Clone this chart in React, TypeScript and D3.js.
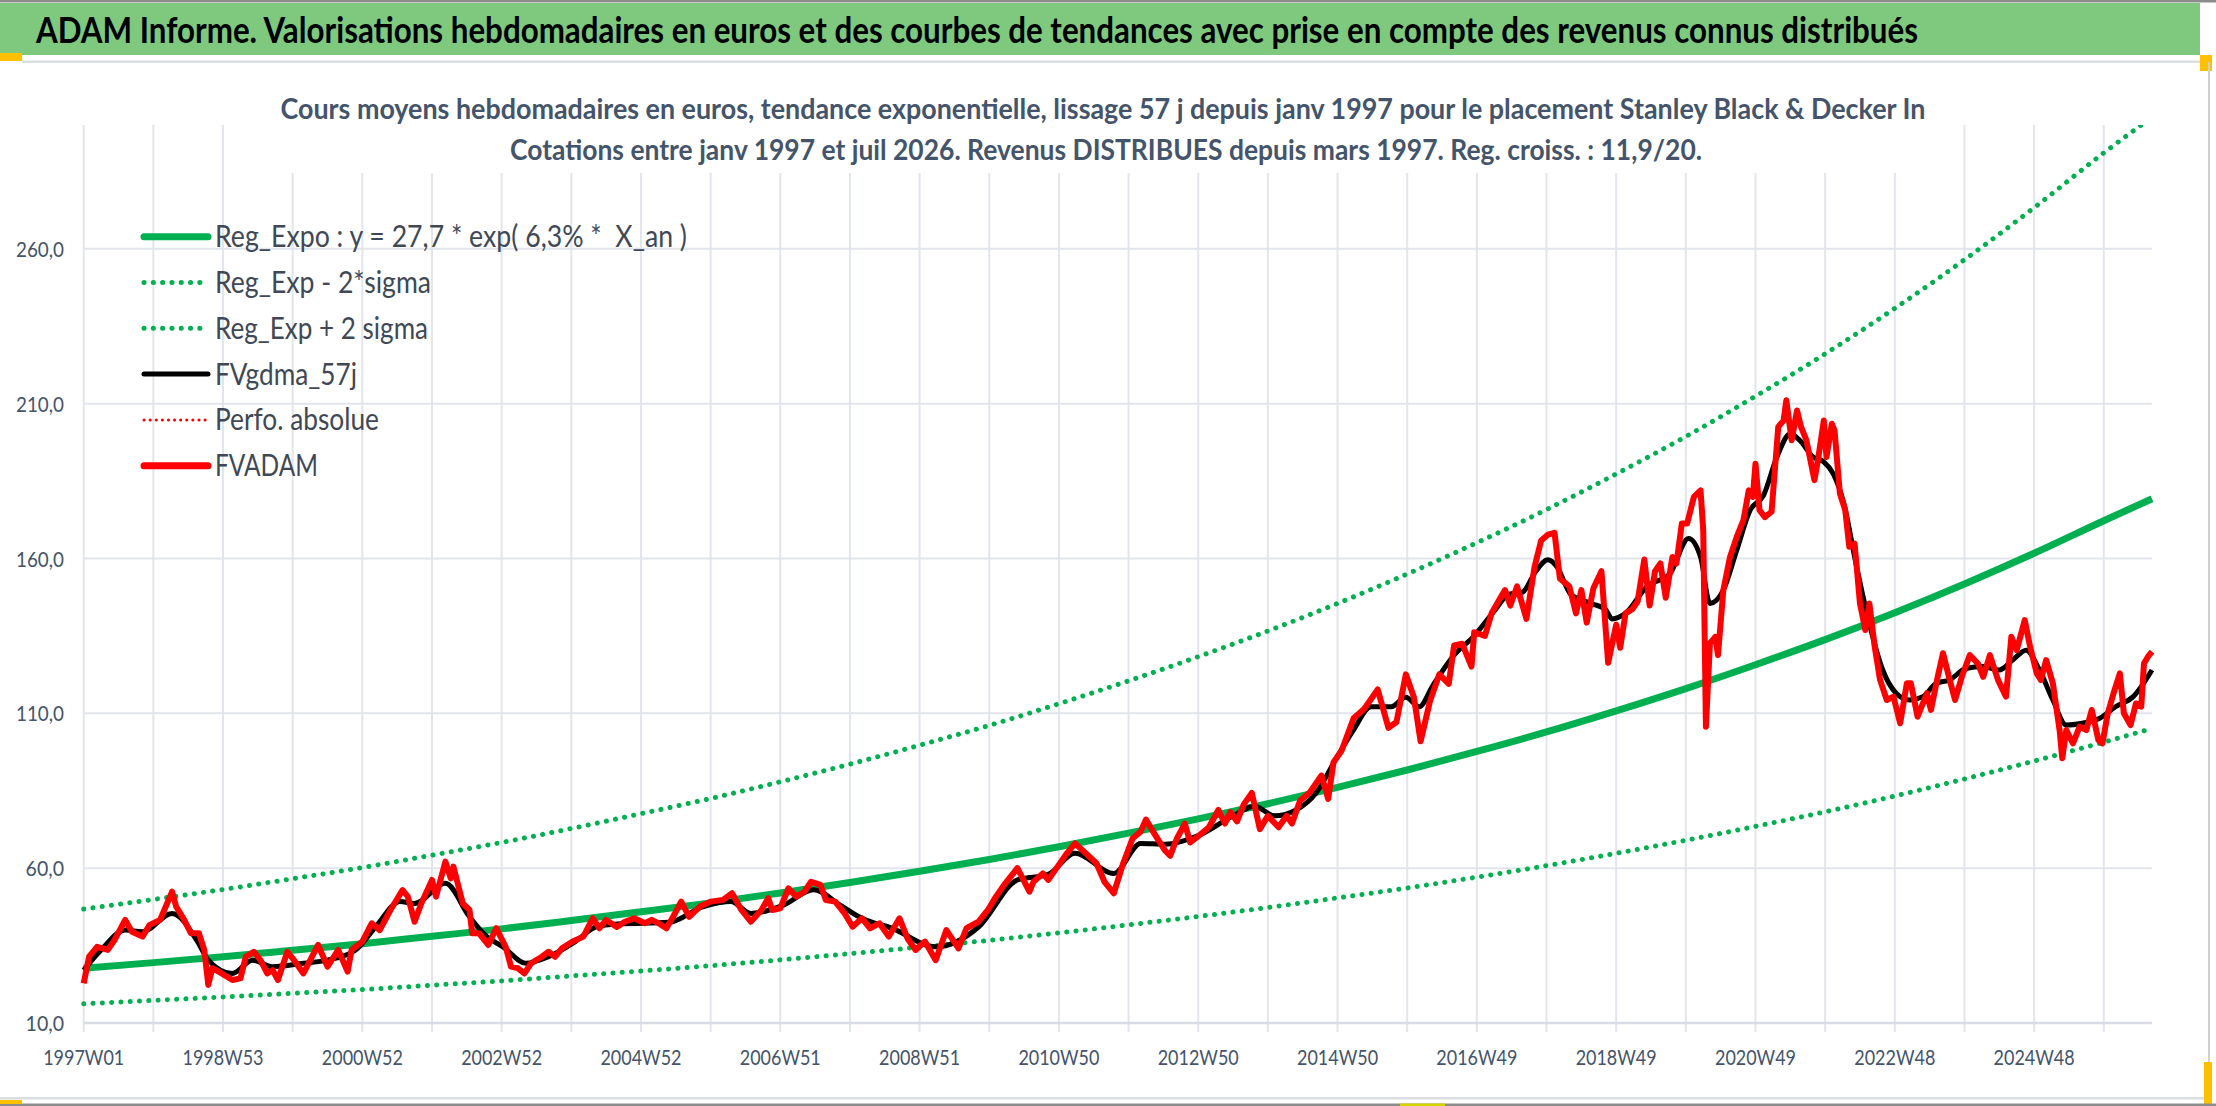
import * as d3 from 'd3';
import React from 'react';

// ---- data ----
const tickLabels = ['1997W01', '1998W53', '2000W52', '2002W52', '2004W52', '2006W51', '2008W51',
  '2010W50', '2012W50', '2014W50', '2016W49', '2018W49', '2020W49', '2022W48', '2024W48'];
const yTicks = [10, 60, 110, 160, 210, 260];
const lastWeek = 1544;

// trend curves, one value per year (week 0, 52, 104 ...) plus the last week
const regExpo = [27.7, 29.5, 31.4, 33.5, 35.6, 38.0, 40.4, 43.1, 45.9, 48.8, 52.0, 55.4, 59.0, 62.8, 66.9,
  71.3, 75.9, 80.8, 86.1, 91.7, 97.7, 104.0, 110.8, 118.0, 125.7, 133.8, 142.5, 151.8, 161.7, 172.2, 179.3];
const regHigh = [46.8, 49.9, 53.1, 56.6, 60.2, 64.2, 68.3, 72.8, 77.6, 82.5, 87.9, 93.6, 99.7, 106.1, 113.1,
  120.5, 128.3, 136.6, 145.5, 155.0, 165.1, 175.8, 187.3, 199.4, 212.4, 226.1, 240.8, 256.5, 273.3, 291.0, 302.5];
const regLow = [16.2, 17.3, 18.4, 19.6, 20.8, 22.2, 23.6, 25.2, 26.8, 28.5, 30.4, 32.4, 34.5, 36.7, 39.1,
  41.7, 44.4, 47.3, 50.4, 53.6, 57.1, 60.8, 64.8, 69.0, 73.5, 78.2, 83.3, 88.8, 94.6, 100.7, 105.1];

// FVADAM weekly valuation (sampled)
const fvadamWeeks = [0, 4, 10, 18, 23, 31, 36, 44, 49, 57, 66, 69, 75, 80, 86, 90, 93, 96, 103, 111, 117, 121, 127,
  132, 137, 141, 145, 152, 157, 164, 175, 182, 190, 197, 200, 208, 215, 221, 229, 238, 242, 247, 252, 260, 263,
  270, 274, 276, 283, 288, 290, 295, 302, 308, 315, 319, 324, 329, 334, 342, 347, 352, 357, 365, 373, 380, 385,
  390, 398, 404, 411, 419, 424, 430, 435, 440, 446, 452, 460, 468, 477, 484, 491, 498, 506, 511, 514, 520, 526,
  532, 538, 543, 550, 554, 561, 568, 574, 581, 587, 594, 601, 609, 615, 621, 628, 636, 644, 653, 659, 668, 675,
  681, 688, 697, 706, 709, 716, 720, 727, 734, 740, 748, 756, 762, 769, 776, 783, 789, 793, 799, 807, 811, 816,
  822, 826, 833, 840, 847, 852, 856, 861, 866, 872, 878, 884, 892, 898, 902, 908, 915, 924, 929, 933, 939, 948,
  956, 966, 974, 980, 987, 993, 998, 1005, 1012, 1019, 1023, 1029, 1036, 1038, 1046, 1051, 1056, 1061, 1065,
  1070, 1077, 1083, 1088, 1093, 1098, 1102, 1109, 1114, 1118, 1122, 1127, 1133, 1138, 1144, 1147, 1151, 1156,
  1160, 1165, 1169, 1173, 1177, 1181, 1186, 1189, 1193, 1197, 1202, 1207, 1209, 1211, 1214, 1218, 1220, 1224,
  1229, 1234, 1239, 1243, 1246, 1248, 1251, 1255, 1260, 1265, 1269, 1271, 1275, 1279, 1282, 1286, 1292, 1295,
  1299, 1301, 1305, 1307, 1311, 1315, 1318, 1322, 1326, 1330, 1333, 1337, 1341, 1346, 1351, 1356, 1361, 1364,
  1369, 1376, 1379, 1384, 1388, 1393, 1397, 1402, 1408, 1414, 1418, 1423, 1429, 1435, 1439, 1443, 1449, 1453,
  1458, 1461, 1465, 1470, 1475, 1477, 1480, 1485, 1490, 1495, 1499, 1504, 1507, 1511, 1516, 1520, 1523, 1528,
  1532, 1536, 1538, 1541, 1544];
const fvadamValues = [22.8, 31.4, 34.6, 33.6, 36.8, 43.3, 39.5, 37.9, 41.6, 43.3, 52.4, 47.6, 43.3, 39, 39, 33.6,
  22.3, 27.7, 26, 23.9, 24.4, 31.4, 33, 30.3, 26, 27.1, 23.9, 33, 30.3, 26, 35.2, 28.2, 33.6, 26.6, 33.6, 36.3,
  42.2, 40, 46.5, 52.9, 50.8, 42.7, 48.6, 56.2, 50.8, 62.1, 56.7, 60.5, 48.6, 46.5, 39, 39, 35.2, 40.6, 34.6,
  28.2, 27.7, 26, 29.3, 31.4, 33, 31.4, 34.1, 36.3, 37.9, 43.8, 40.6, 43.3, 41, 42.7, 43.8, 42.2, 43.3, 42,
  40.6, 44.3, 49.2, 44.3, 47.6, 49.2, 49.7, 51.9, 46.5, 42.7, 46.5, 50.3, 46.5, 47, 53.5, 50.8, 52.4, 55.6,
  54.6, 49.7, 49.2, 45.4, 41.1, 43.8, 40.6, 42.2, 37.9, 43.8, 37.3, 33.6, 36.3, 30.3, 40, 34.1, 40.6, 42.7,
  46.5, 50.8, 55.1, 60, 52.4, 55.6, 58.3, 56.2, 60.5, 64.8, 68, 64.8, 61.6, 55.6, 51.9, 61.6, 69.6, 71.8, 75.7,
  71.3, 65.8, 64, 69.5, 74.4, 68.3, 70.7, 73.2, 78.8, 74.4, 78.1, 75.1, 80.6, 84.3, 72.6, 76.9, 73.2, 76.9,
  74.4, 81.8, 84.3, 89.9, 82.4, 94.2, 97.9, 108.4, 111.5, 117.7, 105.3, 107.2, 122.6, 115.2, 101, 113.9, 122.6,
  119.5, 131.9, 132.5, 125.1, 136.2, 135, 142.3, 146.1, 149.8, 144.8, 151, 140.5, 157.2, 165.8, 167.7, 168.3,
  153.5, 151, 142.3, 149.8, 139.3, 150.4, 155.9, 126.3, 138.6, 131.2, 142.3, 143.6, 146.1, 159.7, 144.8, 155.9,
  158.4, 147.3, 160.5, 158.4, 171.3, 171.3, 179.9, 182, 169.1, 105.7, 132.6, 134.7, 128.8, 149.8, 160.5, 167,
  172.4, 182, 179.9, 190.6, 175.6, 173.4, 175.1, 202.5, 204.6, 211.1, 198.2, 207.8, 202.5, 198.2, 185.3, 192.8,
  204.6, 192.8, 203.5, 201.4, 181, 175.6, 163.8, 164.8, 145.5, 136.9, 145.5, 131.5, 120.8, 114.3, 115.4, 106.8,
  119.7, 119.7, 108.9, 116.5, 111.1, 121.8, 129.4, 120.8, 114.3, 121.8, 128.8, 126.1, 121.8, 128.8, 120.8,
  115.4, 134.7, 130.4, 140.1, 131.5, 122.9, 120.8, 127.2, 119.7, 104.6, 95.5, 104.6, 100.3, 105.7, 104.6, 111.1,
  101.4, 100.3, 110, 117.5, 122.9, 110, 106.2, 113.2, 112.2, 126.1, 128.3, 129.9];

// FVgdma_57j smoothed valuation (sampled)
const gdmaWeeks = [0, 13, 31, 44, 66, 85, 93, 111, 126, 141, 164, 182, 203, 218, 236, 247, 270, 288, 301, 313,
  330, 347, 367, 383, 398, 437, 462, 483, 498, 522, 545, 565, 581, 604, 636, 668, 697, 720, 740, 769, 789, 807,
  833, 858, 874, 889, 905, 920, 935, 948, 961, 976, 987, 997, 1007, 1023, 1038, 1054, 1064, 1074, 1084, 1093,
  1100, 1110, 1126, 1136, 1141, 1151, 1167, 1184, 1198, 1207, 1214, 1224, 1234, 1244, 1254, 1264, 1274, 1281,
  1291, 1299, 1306, 1314, 1323, 1333, 1343, 1353, 1363, 1373, 1383, 1393, 1405, 1418, 1430, 1440, 1450, 1460,
  1470, 1480, 1492, 1505, 1517, 1530, 1544];
const gdmaValues = [27.1, 33.6, 40, 39.5, 45.4, 36.3, 30.3, 26, 30.3, 28.2, 29.3, 30.3, 33.6, 41.1, 49.2, 48.6,
  55.1, 44.3, 37.9, 34.6, 29.3, 31.4, 36.3, 41.1, 42, 42.5, 47.5, 49.2, 45.4, 48, 53, 48, 43.8, 40.5, 34.6, 41,
  56.2, 58, 64.8, 58.3, 68, 67.7, 70.7, 76.9, 80, 76.9, 78.8, 84.3, 95.4, 104.7, 112.1, 112.1, 115.2, 112.1,
  118.9, 128.8, 135, 143.6, 148.5, 149.1, 155.9, 159.6, 157.2, 148.5, 145.4, 143.6, 140.5, 142.3, 151, 155,
  166.5, 160.5, 145.5, 149.8, 162.7, 175.6, 180.4, 192.8, 200.3, 198.2, 192.8, 191.2, 187.4, 177.7, 158.4, 139,
  124, 116.5, 114.3, 115.4, 119.7, 120.8, 124.5, 125.1, 124, 127.2, 130.4, 124, 114.3, 106.2, 106.8, 108.4,
  112.2, 115.4, 124];

const legendItems = [
  { label: 'Reg_Expo : y = 27,7 * exp( 6,3% *  X_an )', color: '#00B050', width: 7, dash: '', len: 472 },
  { label: 'Reg_Exp - 2*sigma', color: '#00B050', width: 5, dash: '0.1 9.2', len: 216 },
  { label: 'Reg_Exp + 2 sigma', color: '#00B050', width: 5, dash: '0.1 9.2', len: 213 },
  { label: 'FVgdma_57j', color: '#000000', width: 5, dash: '', len: 142 },
  { label: 'Perfo. absolue', color: '#FF0000', width: 3, dash: '0.1 6', len: 164 },
  { label: 'FVADAM', color: '#FF0000', width: 7, dash: '', len: 103 },
];

const FONT = 'Lato, "Open Sans", sans-serif';

const App = () => {
  const W = 2216;
  const H = 1106;
  const left = 83.7;
  const right = 2152;
  const top = 125;
  const bottom = 1023;

  const x = d3.scaleLinear().domain([0, lastWeek]).range([left, right]);
  const y = d3.scaleLinear().domain([10, 300]).range([bottom, top]);

  const gridWeeks = d3.range(0, lastWeek, 52);
  const bandWeeks = [...d3.range(0, 1509, 52), lastWeek];

  const smooth = d3.line<[number, number]>()
    .x(d => x(d[0]))
    .y(d => y(d[1]))
    .curve(d3.curveMonotoneX);
  const plain = d3.line<[number, number]>()
    .x(d => x(d[0]))
    .y(d => y(d[1]));

  const zip = (ws: number[], vs: number[]) => ws.map((w, i) => [w, vs[i]] as [number, number]);

  const gridColor = '#E2E5EB';
  const axisText = '#44546A';

  return (
    <svg width={W} height={H} style={{ position: 'absolute', left: 0, top: 0, background: '#fff' }}
      fontFamily={FONT}>
      <defs>
        <clipPath id="plot-clip">
          <rect x={left - 4} y={top} width={right - left + 8} height={bottom - top} />
        </clipPath>
      </defs>

      {/* frame and header bar */}
      <rect x={0} y={0} width={W} height={H} fill="#fff" />
      <rect x={0} y={0} width={W} height={2.5} fill="#8c8c8c" />
      <rect x={0} y={3} width={2200} height={52} fill="#7FC97F" />
      <rect x={0} y={53} width={22} height={8} fill="#FFC000" />
      <rect x={22} y={60.5} width={2178} height={2.5} fill="#DADDE2" />
      <rect x={2200} y={55} width={12} height={16} fill="#FFC000" />
      <rect x={2208} y={62} width={2} height={1038} fill="#D0D0D0" />
      <rect x={2204} y={1062} width={8} height={42} fill="#FFC000" />
      <rect x={0} y={1097} width={2204} height={2.5} fill="#DADDE2" />
      <rect x={0} y={1103.5} width={W} height={2.5} fill="#8c8c8c" />
      <rect x={0} y={1100} width={22} height={4} fill="#FFC000" />
      <rect x={1400} y={1103.5} width={45} height={2.5} fill="#D4D400" />

      <text x={36} y={42.5} fontSize={36} fontWeight={700} fill="#000" textLength={1882}
        lengthAdjust="spacingAndGlyphs">
        ADAM Informe. Valorisations hebdomadaires en euros et des courbes de tendances avec prise en compte des revenus connus distribués
      </text>

      {/* gridlines */}
      {yTicks.filter(v => v > 10).map(v => (
        <line key={'h' + v} x1={left} x2={right} y1={y(v)} y2={y(v)} stroke={gridColor} strokeWidth={2} />
      ))}
      {gridWeeks.map(w => (
        <line key={'v' + w} x1={x(w)} x2={x(w)} y1={top} y2={bottom + 9} stroke={gridColor} strokeWidth={2} />
      ))}
      <line x1={left} x2={right} y1={bottom} y2={bottom} stroke="#D9DCE2" strokeWidth={2.5} />

      {/* subtitle box covers the gridlines */}
      <rect x={262} y={88} width={1678} height={85} fill="#fff" />
      <text x={1103} y={118.5} fontSize={28} fontWeight={700} fill="#44546A" textAnchor="middle"
        textLength={1645} lengthAdjust="spacingAndGlyphs">
        Cours moyens hebdomadaires en euros, tendance exponentielle, lissage 57 j depuis janv 1997 pour le placement Stanley Black &amp; Decker In
      </text>
      <text x={1106} y={159.5} fontSize={28} fontWeight={700} fill="#44546A" textAnchor="middle"
        textLength={1192} lengthAdjust="spacingAndGlyphs">
        Cotations entre janv 1997 et juil 2026. Revenus DISTRIBUES depuis mars 1997. Reg. croiss. : 11,9/20.
      </text>

      {/* axis labels */}
      {yTicks.map(v => {
        const s = d3.format('.1f')(v).replace('.', ',');
        return (
          <text key={'yl' + v} x={64} y={y(v) + 8} fontSize={21} fill={axisText} textAnchor="end"
            textLength={s.length * 9.6} lengthAdjust="spacingAndGlyphs">{s}</text>
        );
      })}
      {tickLabels.map((t, i) => (
        <text key={t} x={x(i * 104)} y={1065} fontSize={21} fill={axisText} textAnchor="middle"
          textLength={81} lengthAdjust="spacingAndGlyphs">{t}</text>
      ))}

      {/* series */}
      <g clipPath="url(#plot-clip)" fill="none" strokeLinejoin="round">
        <path d={smooth(zip(bandWeeks, regHigh)) || ''} stroke="#00B050" strokeWidth={5}
          strokeDasharray="0.1 9.2" strokeLinecap="round" />
        <path d={smooth(zip(bandWeeks, regLow)) || ''} stroke="#00B050" strokeWidth={5}
          strokeDasharray="0.1 9.2" strokeLinecap="round" />
        <path d={smooth(zip(bandWeeks, regExpo)) || ''} stroke="#00B050" strokeWidth={7} />
        <path d={smooth(zip(gdmaWeeks, gdmaValues)) || ''} stroke="#000" strokeWidth={5} />
        <path d={plain(zip(fvadamWeeks, fvadamValues)) || ''} stroke="#FF0000" strokeWidth={6} />
      </g>

      {/* legend */}
      {legendItems.map((it, i) => {
        const cy = 236.7 + i * 45.8;
        return (
          <g key={it.label}>
            <line x1={144} x2={208} y1={cy} y2={cy} stroke={it.color} strokeWidth={it.width}
              strokeDasharray={it.dash || undefined} strokeLinecap="round" />
            <text x={215} y={cy + 10.5} fontSize={30} fill="#404855" textLength={it.len}
              lengthAdjust="spacingAndGlyphs" style={{ whiteSpace: 'pre' }}>{it.label}</text>
          </g>
        );
      })}
    </svg>
  );
};

export default App;
